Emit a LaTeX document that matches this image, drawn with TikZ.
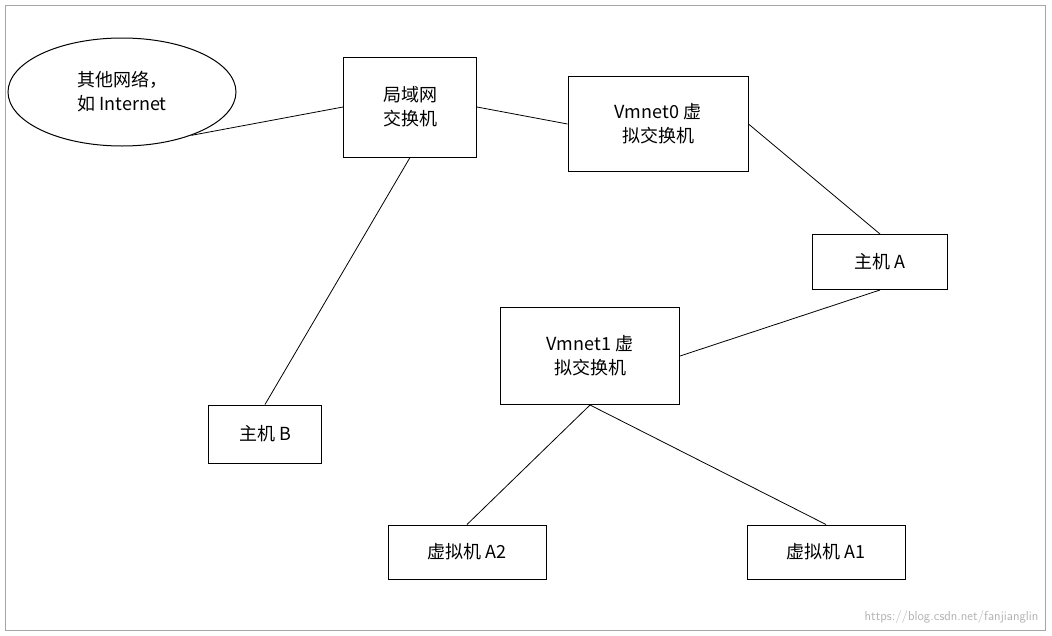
\documentclass[tikz,border=0pt]{standalone}
\usepackage{fontspec}
\newfontfamily\cjk{Noto Sans CJK SC}
\usetikzlibrary{shapes.geometric}
\begin{document}
\begin{tikzpicture}[x=1pt,y=-1pt,
 box/.style={draw,line width=1pt,font=\cjk\fontsize{18}{24}\selectfont,align=center,inner sep=0pt},
 ln/.style={line width=0.8pt}]
\useasboundingbox (0,0) rectangle (1052,635);
\fill[white] (0,0) rectangle (1052,635);
\draw[gray!70] (5,5) rectangle (1045,630);
\node[box,ellipse,minimum width=228pt,minimum height=108pt] (e) at (122,92) {其他网络，\\如 Internet};
\node[box,minimum width=133pt,minimum height=100pt] (lan) at (410,107) {局域网\\交换机};
\node[box,minimum width=180pt,minimum height=95pt] (v0) at (658,124) {Vmnet0 虚\\拟交换机};
\node[box,minimum width=135pt,minimum height=55pt] (A) at (880,262) {主机 A};
\node[box,minimum width=179pt,minimum height=97pt] (v1) at (590,356) {Vmnet1 虚\\拟交换机};
\node[box,minimum width=113pt,minimum height=58pt] (B) at (265,434) {主机 B};
\node[box,minimum width=158pt,minimum height=54pt] (a2) at (467,552) {虚拟机 A2};
\node[box,minimum width=158pt,minimum height=54pt] (a1) at (826,552) {虚拟机 A1};
\node[font=\sffamily\fontsize{13}{15}\selectfont,text=gray!60,anchor=east] (wm) at (1042,617) {https://blog.csdn.net/fanjianglin};
\draw[ln] (e.-32) -- (lan.west);
\draw[ln] (lan.east) -- (v0.west);
\draw[ln] (lan.south) -- (B.north);
\draw[ln] (v0.east) -- (A.north);
\draw[ln] (A.south) -- (v1.east);
\draw[ln] (v1.south) -- (a2.north);
\draw[ln] (v1.south) -- (a1.north);
\end{tikzpicture}
\end{document}
